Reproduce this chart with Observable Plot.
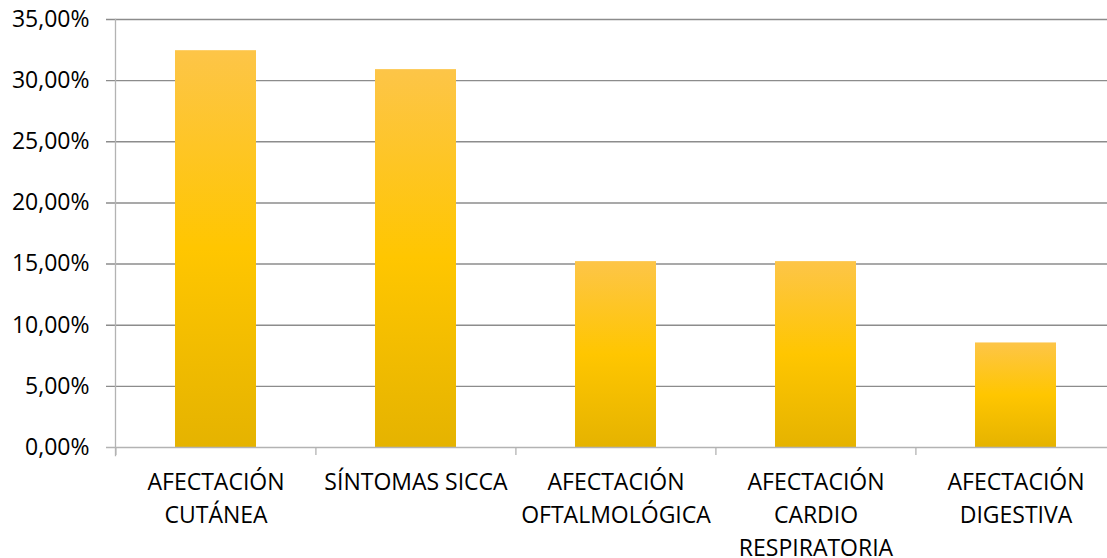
<!DOCTYPE html>
<html>
<head>
<meta charset="utf-8">
<script src="https://cdn.jsdelivr.net/npm/d3@7"></script>
<script src="https://cdn.jsdelivr.net/npm/@observablehq/plot@0.6"></script>
<style>
  html, body { margin: 0; padding: 0; background: #fff; overflow: hidden; }
  #chart svg { display: block; }
</style>
</head>
<body>
<div id="chart"></div>
<script>
// Categories and their share of patients (%)
const categories = [
  "AFECTACIÓN CUTÁNEA",
  "SÍNTOMAS SICCA",
  "AFECTACIÓN OFTALMOLÓGICA",
  "AFECTACIÓN CARDIO RESPIRATORIA",
  "AFECTACIÓN DIGESTIVA"
];
const values = [32.45, 30.9, 15.2, 15.2, 8.55];
// Wrapped tick labels shown under each bar
const tickLabels = [
  "AFECTACIÓN\nCUTÁNEA",
  "SÍNTOMAS SICCA",
  "AFECTACIÓN\nOFTALMOLÓGICA",
  "AFECTACIÓN\nCARDIO\nRESPIRATORIA",
  "AFECTACIÓN\nDIGESTIVA"
];
const yTicks = [0, 5, 10, 15, 20, 25, 30, 35];

const data = categories.map((c, i) => ({category: c, value: values[i]}));

const W = 1107, H = 558;
const left = 115, right = 1116;
const step = (right - left) / categories.length;
const marginTop = 19, marginBottom = 111;
const plotH = H - marginTop - marginBottom;
const font = "'Open Sans', sans-serif";

const fmt = d => d.toFixed(2).replace(".", ",") + "%";
const labelOf = new Map(categories.map((c, i) => [c, tickLabels[i]]));

const chart = Plot.plot({
  width: W,
  height: H,
  marginLeft: left,
  marginRight: 0,
  marginTop,
  marginBottom,
  style: {fontFamily: font, fontSize: "23px", color: "#000", background: "#fff"},
  x: {type: "band", domain: categories, range: [left, right], paddingInner: 0.595, paddingOuter: 0.2975, label: null},
  y: {domain: [0, 35], label: null},
  marks: [
    // horizontal gridlines with short ticks left of the axis
    Plot.ruleY(yTicks.filter(t => t > 0), {stroke: "#8c8c8c", strokeWidth: 1.4, insetLeft: -9}),
    Plot.barY(data, {x: "category", y: "value", fill: "url(#barGrad)"}),
    // value axis line
    Plot.frame({anchor: "left", stroke: "#b3b3b3", strokeWidth: 1.3, insetBottom: -8}),
    Plot.ruleY([0], {stroke: "#b3b3b3", strokeWidth: 1.3, insetLeft: -9}),
    // category boundary ticks below the axis
    Plot.ruleX(categories, {x: d => d, dx: -step / 2, stroke: "#b3b3b3", strokeWidth: 1.3, insetTop: plotH, insetBottom: -8}),
    Plot.axisY({ticks: yTicks, tickFormat: fmt, tickSize: 0, tickPadding: 26, fontSize: 23, fill: "#000", label: null}),
    Plot.axisX({tickSize: 0, tickPadding: 19, tickFormat: d => labelOf.get(d), lineHeight: 1.43, fontSize: 23, fill: "#000", textAnchor: "middle", label: null})
  ]
});

// vertical gradient used by every bar
const defs = d3.select(chart).insert("defs", ":first-child");
const g = defs.append("linearGradient").attr("id", "barGrad")
  .attr("x1", 0).attr("y1", 0).attr("x2", 0).attr("y2", 1);
g.append("stop").attr("offset", "0%").attr("stop-color", "#fdc548");
g.append("stop").attr("offset", "50%").attr("stop-color", "#ffc600");
g.append("stop").attr("offset", "100%").attr("stop-color", "#e5b300");

document.getElementById("chart").appendChild(chart);
</script>
</body>
</html>
